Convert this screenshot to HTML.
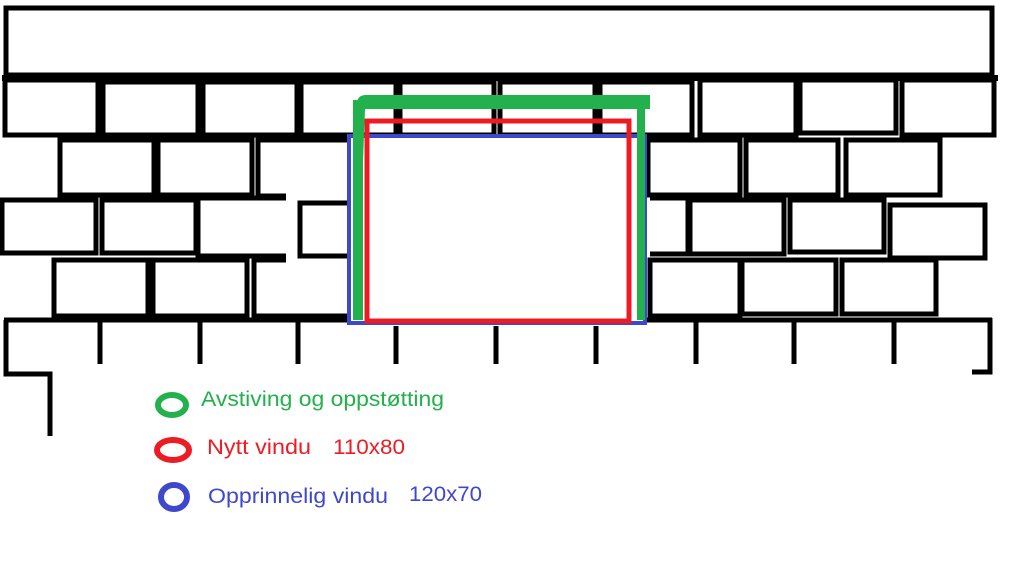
<!DOCTYPE html>
<html><head><meta charset="utf-8"><style>
html,body{margin:0;padding:0;background:#fff;width:1024px;height:576px;overflow:hidden}
svg{display:block}
text{font-family:"Liberation Sans","DejaVu Sans",sans-serif;font-size:21px}
</style></head><body>
<svg width="1024" height="576" viewBox="0 0 1024 576" xmlns="http://www.w3.org/2000/svg">
<g fill="none" stroke="#000" stroke-width="5">
<rect x="6" y="8" width="986" height="67" stroke-width="5"/>
<line x1="2" y1="78" x2="998" y2="78" stroke-width="6"/>
<rect x="5" y="80" width="93" height="55"/>
<rect x="103" y="82" width="95" height="53"/>
<rect x="203" y="82" width="94" height="53"/>
<rect x="301" y="82" width="95" height="53"/>
<rect x="400" y="82" width="94" height="53"/>
<rect x="500" y="82" width="95" height="53"/>
<rect x="600" y="82" width="92" height="53"/>
<rect x="700" y="80" width="96" height="55"/>
<rect x="800" y="80" width="96" height="53"/>
<rect x="902" y="80" width="92" height="55"/>
<rect x="60" y="140" width="94" height="55"/>
<rect x="158" y="140" width="94" height="55"/>
<polyline points="350,140 258,140 258,196 286,196"/>
<rect x="648" y="140" width="92" height="55"/>
<rect x="746" y="140" width="92" height="55"/>
<rect x="846" y="140" width="94" height="55"/>
<rect x="2" y="200" width="94" height="53"/>
<rect x="102" y="200" width="94" height="53"/>
<polyline points="286,198 198,198 198,256 286,256"/>
<polyline points="350,203 300,203 300,256 350,256"/>
<polyline points="650,198 688,198 688,254 650,254"/>
<rect x="690" y="200" width="94" height="54"/>
<rect x="790" y="200" width="94" height="52"/>
<rect x="890" y="205" width="95" height="53"/>
<rect x="54" y="260" width="94" height="56"/>
<rect x="153" y="260" width="94" height="56"/>
<polyline points="286,260 254,260 254,316 350,316"/>
<rect x="650" y="260" width="90" height="56"/>
<rect x="742" y="260" width="94" height="54"/>
<rect x="842" y="260" width="94" height="54"/>
<line x1="4" y1="320" x2="350" y2="320"/>
<line x1="646" y1="320" x2="992" y2="320"/>
<polyline points="6,320 6,374 50,374 50,436"/>
<line x1="100" y1="320" x2="100" y2="364"/>
<line x1="200" y1="320" x2="200" y2="364"/>
<line x1="298" y1="320" x2="298" y2="364"/>
<line x1="396" y1="326" x2="396" y2="364"/>
<line x1="496" y1="326" x2="496" y2="364"/>
<line x1="596" y1="326" x2="596" y2="364"/>
<line x1="696" y1="322" x2="696" y2="364"/>
<line x1="794" y1="322" x2="794" y2="364"/>
<line x1="894" y1="322" x2="894" y2="364"/>
<polyline points="990,318 990,372 972,372"/>
</g>
<rect x="349" y="136" width="296" height="187" fill="none" stroke="#3f48cc" stroke-width="4"/>
<rect x="367" y="121" width="262" height="200" fill="none" stroke="#ed1c24" stroke-width="5"/>
<path d="M357,320 L357,104 Q357,95 366,95 L650,95 L650,109 L365,109 Z" fill="#22b14c"/>
<rect x="353" y="100" width="10" height="220" fill="#22b14c"/>
<rect x="637" y="104" width="8" height="216" fill="#22b14c"/>
<ellipse cx="172" cy="405" rx="14" ry="10" fill="none" stroke="#22b14c" stroke-width="6"/>
<text x="201" y="406" fill="#22b14c" textLength="243" lengthAdjust="spacingAndGlyphs">Avstiving og oppstøtting</text>
<ellipse cx="173" cy="450" rx="16" ry="10" fill="none" stroke="#ed1c24" stroke-width="6"/>
<text x="207" y="454" fill="#ed1c24" textLength="104" lengthAdjust="spacingAndGlyphs">Nytt vindu</text>
<text x="333" y="454" fill="#ed1c24" textLength="72" lengthAdjust="spacingAndGlyphs">110x80</text>
<ellipse cx="174" cy="497" rx="13" ry="12" fill="none" stroke="#3f48cc" stroke-width="6"/>
<text x="208" y="503" fill="#3f48cc" textLength="180" lengthAdjust="spacingAndGlyphs">Opprinnelig vindu</text>
<text x="409" y="501" fill="#3f48cc" textLength="73" lengthAdjust="spacingAndGlyphs">120x70</text>
</svg>
</body></html>
